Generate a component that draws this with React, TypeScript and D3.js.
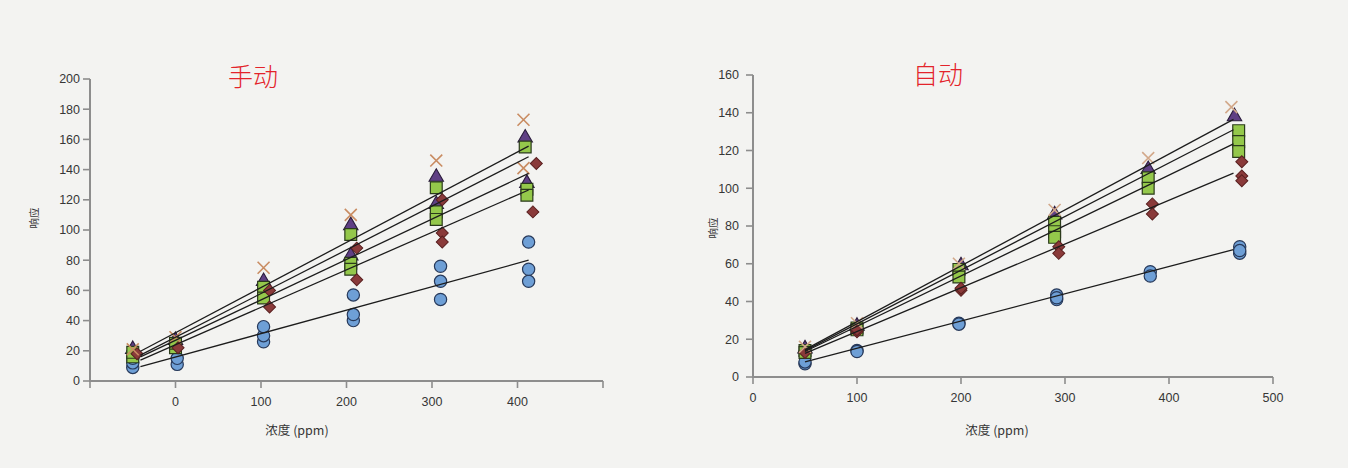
import React from 'react';
import * as d3 from 'd3';

const W = 1348;
const H = 468;

type P = [number, number];

// ---------- Left chart: 手动 ----------
const leftTitle = '手动';
const leftYTicks = [0, 20, 40, 60, 80, 100, 120, 140, 160, 180, 200];
const leftXTickLabels = [0, 100, 200, 300, 400];
const leftXTickMarks = [-100, 0, 100, 200, 300, 400, 500];

const leftCircles: P[] = [
  [-50, 9], [-50, 12], [-50, 15], [2, 11], [2, 15],
  [103, 26], [103, 30], [103, 36], [208, 40], [208, 44], [208, 57],
  [310, 54], [310, 66], [310, 76], [413, 66], [413, 74], [413, 92],
];
const leftTriangles: P[] = [
  [-50, 21], [0, 27], [103, 66], [205, 103], [205, 83], [305, 135], [305, 117], [409, 161], [411, 131],
];
const leftSquares: P[] = [
  [-50, 16], [-50, 19], [0, 22], [0, 25], [103, 62], [103, 55],
  [205, 97], [205, 78], [205, 74], [305, 128], [305, 112], [305, 107],
  [409, 155], [411, 127], [411, 123],
];
const leftDiamonds: P[] = [
  [-45, 18], [3, 22], [110, 60], [110, 49], [212, 88], [212, 67],
  [312, 120], [312, 98], [312, 92], [422, 144], [418, 112],
];
const leftCrosses: P[] = [
  [-50, 21], [0, 29], [103, 75], [205, 110], [305, 146], [407, 173], [407, 141],
];
const leftLineX = [-41, 413];
const leftLineStart = [19.7, 17.1, 16, 13.8, 9.5];
const leftLineEnd = [155.5, 148.5, 137.5, 126.5, 80];

// ---------- Right chart: 自动 ----------
const rightTitle = '自动';
const rightYTicks = [0, 20, 40, 60, 80, 100, 120, 140, 160];
const rightXTickLabels = [0, 100, 200, 300, 400, 500];

const rightCircles: P[] = [
  [50, 7], [50, 8], [100, 14], [100, 13.5], [198, 28.5], [198, 28],
  [292, 43.4], [292, 41], [292, 42], [382, 55.8], [382, 53.5],
  [468, 69], [468, 65.6], [468, 67],
];
const rightTriangles: P[] = [
  [50, 15], [100, 27], [200, 59], [290, 86], [380, 110], [463, 138],
];
const rightSquares: P[] = [
  [50, 14], [50, 13], [100, 26], [100, 25], [198, 57], [198, 53],
  [290, 82], [290, 77], [290, 74], [380, 105.5], [380, 100],
  [467, 130.5], [467, 124.7], [467, 119.5],
];
const rightDiamonds: P[] = [
  [50, 13], [100, 24], [100, 25], [200, 46], [200, 47], [294, 69], [294, 65.5],
  [384, 91.7], [384, 86.4], [470, 114], [470, 106.5], [470, 104],
];
const rightCrosses: P[] = [
  [50, 16], [100, 28.5], [198, 60], [290, 88.5], [380, 116], [460, 143],
];
const rightLineX = [50, 462];
const rightLineStart = [14.5, 14, 13.5, 12.5, 8];
const rightLineEnd = [136.5, 131, 123.5, 108, 67.5];

const AXIS = '#8d8d8d';
const TXT = '#363636';
const NUM_FONT = '"Liberation Sans Narrow", "Liberation Sans", Arial, sans-serif';
const CJK_FONT = '"Noto Sans CJK SC", "Noto Sans", sans-serif';

const sym = (type: d3.SymbolType, size: number) => d3.symbol().type(type).size(size)() as string;

interface ChartProps {
  title: string;
  titleX: number;
  titleY: number;
  xDomain: [number, number];
  xRange: [number, number];
  yDomain: [number, number];
  yRange: [number, number];
  yTicks: number[];
  xTickLabels: number[];
  xTickMarks: number[];
  yLabelGap: number;
  circles: P[];
  triangles: P[];
  squares: P[];
  diamonds: P[];
  crosses: P[];
  crossColor: string;
  lineX: number[];
  lineStart: number[];
  lineEnd: number[];
  yTitleX: number;
  yTitleY: number;
  xTitleX: number;
  xTitleY: number;
}

function Chart(p: ChartProps) {
  const x = d3.scaleLinear().domain(p.xDomain).range(p.xRange);
  const y = d3.scaleLinear().domain(p.yDomain).range(p.yRange);
  const x0 = p.xRange[0];
  const y0 = p.yRange[0];
  const circlePath = sym(d3.symbolCircle, 118);
  const squarePath = sym(d3.symbolSquare, 140);
  const diamondPath = sym(d3.symbolSquare, 72);
  const trianglePath = sym(d3.symbolTriangle, 90);
  const crossPath = sym(d3.symbolX, 95);
  const line = d3.line<P>().x((d) => x(d[0])).y((d) => y(d[1]));
  return (
    <g>
      <text x={p.titleX} y={p.titleY} textAnchor="middle" fontFamily={CJK_FONT} fontSize={25} fill="#e3232b" fontWeight={300}>
        {p.title}
      </text>
      {/* axes */}
      <line x1={x0} x2={x0} y1={p.yRange[1]} y2={y0 + 1} stroke={AXIS} strokeWidth={2} />
      <line x1={x0 - 1} x2={p.xRange[1]} y1={y0} y2={y0} stroke={AXIS} strokeWidth={2} />
      {p.yTicks.map((t) => (
        <g key={'yt' + t}>
          <line x1={x0 - 7} x2={x0} y1={y(t)} y2={y(t)} stroke={AXIS} strokeWidth={1.6} />
          <text x={x0 - p.yLabelGap} y={y(t)} dy="0.35em" textAnchor="end" fontFamily={NUM_FONT} fontSize={12.5} fill={TXT}>
            {t}
          </text>
        </g>
      ))}
      {p.xTickMarks.map((t) => (
        <line key={'xm' + t} x1={x(t)} x2={x(t)} y1={y0} y2={y0 + 7} stroke={AXIS} strokeWidth={1.6} />
      ))}
      {p.xTickLabels.map((t) => (
        <text key={'xl' + t} x={x(t)} y={y0 + 25} textAnchor="middle" fontFamily={NUM_FONT} fontSize={12.5} fill={TXT}>
          {t}
        </text>
      ))}
      <text transform={`translate(${p.yTitleX},${p.yTitleY}) rotate(-90)`} textAnchor="middle" dy="0.35em" fontFamily={CJK_FONT} fontSize={10.5} fill={TXT}>
        响应
      </text>
      <text x={p.xTitleX} y={p.xTitleY} textAnchor="middle" dy="0.35em" fontFamily={CJK_FONT} fontSize={12.5} fill={TXT}>
        浓度 (ppm)
      </text>
      {/* markers */}
      {p.circles.map((d, i) => (
        <path key={'c' + i} d={circlePath} transform={`translate(${x(d[0])},${y(d[1])})`} fill="#6e9fd6" stroke="#27395a" strokeWidth={1.2} />
      ))}
      {p.triangles.map((d, i) => (
        <path key={'t' + i} d={trianglePath} transform={`translate(${x(d[0])},${y(d[1])})`} fill="#5f3f84" stroke="#2a1c3c" strokeWidth={1.1} />
      ))}
      {p.squares.map((d, i) => (
        <path key={'s' + i} d={squarePath} transform={`translate(${x(d[0])},${y(d[1])})`} fill="#94c84b" stroke="#2b3b1c" strokeWidth={1.2} />
      ))}
      {p.diamonds.map((d, i) => (
        <path key={'d' + i} d={diamondPath} transform={`translate(${x(d[0])},${y(d[1])}) rotate(45)`} fill="#8a3a3a" stroke="#5a2020" strokeWidth={1} />
      ))}
      {p.crosses.map((d, i) => (
        <path key={'x' + i} d={crossPath} transform={`translate(${x(d[0])},${y(d[1])})`} fill="none" stroke={p.crossColor} strokeWidth={1.6} />
      ))}
      {/* fit lines */}
      {p.lineStart.map((s, i) => (
        <path
          key={'l' + i}
          d={line([[p.lineX[0], s], [p.lineX[1], p.lineEnd[i]]]) as string}
          fill="none"
          stroke="#1c1c1c"
          strokeWidth={1.3}
        />
      ))}
    </g>
  );
}

export default function App() {
  return (
    <svg width={W} height={H} style={{ position: 'absolute', left: 0, top: 0, display: 'block' }}>
      <rect x={0} y={0} width={W} height={H} fill="#f3f3f1" />
      <Chart
        title={leftTitle}
        titleX={253}
        titleY={86}
        xDomain={[-100, 500]}
        xRange={[90, 603]}
        yDomain={[0, 200]}
        yRange={[381, 79]}
        yTicks={leftYTicks}
        xTickLabels={leftXTickLabels}
        xTickMarks={leftXTickMarks}
        yLabelGap={10}
        circles={leftCircles}
        triangles={leftTriangles}
        squares={leftSquares}
        diamonds={leftDiamonds}
        crosses={leftCrosses}
        crossColor="#c98c62"
        lineX={leftLineX}
        lineStart={leftLineStart}
        lineEnd={leftLineEnd}
        yTitleX={34}
        yTitleY={218}
        xTitleX={297}
        xTitleY={431}
      />
      <Chart
        title={rightTitle}
        titleX={938}
        titleY={84}
        xDomain={[0, 500]}
        xRange={[753, 1273]}
        yDomain={[0, 160]}
        yRange={[377, 75]}
        yTicks={rightYTicks}
        xTickLabels={rightXTickLabels}
        xTickMarks={rightXTickLabels}
        yLabelGap={14}
        circles={rightCircles}
        triangles={rightTriangles}
        squares={rightSquares}
        diamonds={rightDiamonds}
        crosses={rightCrosses}
        crossColor="#d2a88a"
        lineX={rightLineX}
        lineStart={rightLineStart}
        lineEnd={rightLineEnd}
        yTitleX={713}
        yTitleY={228}
        xTitleX={997}
        xTitleY={431}
      />
    </svg>
  );
}
